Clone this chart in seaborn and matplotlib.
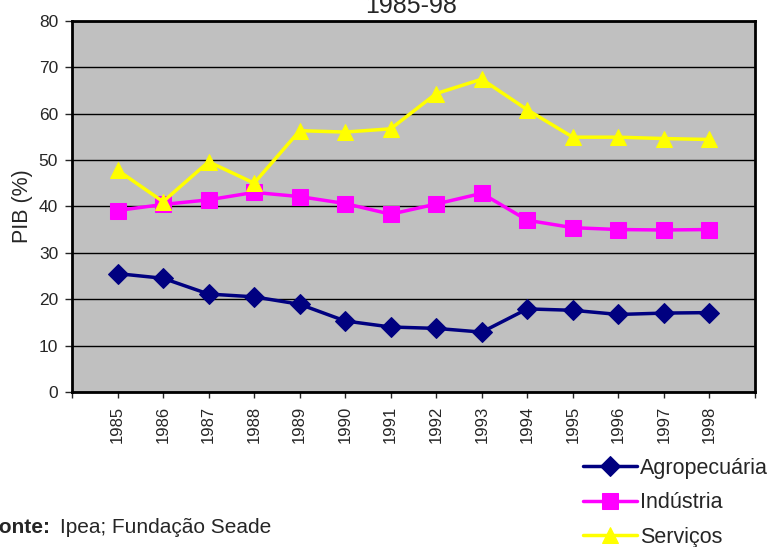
import matplotlib
matplotlib.use("Agg")
import matplotlib.pyplot as plt
import seaborn as sns
import pandas as pd

# dados (PIB, %)
anos        = ["1985", "1986", "1987", "1988", "1989", "1990", "1991",
               "1992", "1993", "1994", "1995", "1996", "1997", "1998"]
agropecuaria = [25.5, 24.5, 21.1, 20.5, 18.9, 15.3, 14.0, 13.7, 12.9, 17.9, 17.6, 16.7, 17.0, 17.1]
industria    = [39.1, 40.4, 41.4, 43.0, 42.1, 40.6, 38.3, 40.5, 42.8, 37.0, 35.4, 35.0, 34.9, 35.0]
servicos     = [47.8, 41.0, 49.6, 45.0, 56.3, 56.0, 56.7, 64.3, 67.4, 60.8, 54.9, 54.9, 54.6, 54.4]

series = [
    ("Agropecuária", agropecuaria, "#000080", "D", 10),
    ("Indústria",    industria,    "#FF00FF", "s", 11),
    ("Serviços",     servicos,     "#FFFF00", "^", 12),
]

sns.set_theme(style="white")
plt.rcParams["font.family"] = ["Liberation Sans", "DejaVu Sans"]

fig = plt.figure(figsize=(7.71, 5.47), dpi=100)
ax = fig.add_axes([0.0934, 0.2834, 0.8858, 0.6788])
ax.set_facecolor("#C0C0C0")

pos = list(range(len(anos)))
for nome, vals, cor, mk, ms in series:
    df = pd.DataFrame({"pos": pos, "valor": vals})
    sns.lineplot(data=df, x="pos", y="valor", ax=ax, color=cor, lw=2.5,
                 marker=mk, markersize=ms, markeredgecolor=cor,
                 markerfacecolor=cor, label=nome)

ax.set_xlim(-1, 14)
ax.set_ylim(0, 80)
ax.set_yticks(range(0, 81, 10))
ax.yaxis.grid(True, color="black", lw=1)
ax.set_axisbelow(True)

ax.set_xticks(range(-1, 15))
ax.set_xticklabels([""] + anos + [""], rotation=90, fontsize=12)
ax.tick_params(axis="y", labelsize=12.5, length=5, width=1, direction="out",
               left=True, pad=5)
ax.tick_params(axis="x", length=4, width=1, direction="out", bottom=True, pad=6)

for s in ax.spines.values():
    s.set_color("black")
    s.set_linewidth(2)

ax.set_xlabel("")
ax.set_ylabel("PIB (%)", fontsize=15.5, labelpad=4)

fig.text(0.533, 0.976, "1985-98", ha="center", va="baseline", fontsize=18)

ax.legend(loc="upper left", bbox_to_anchor=(0.756, 0.163),
          bbox_transform=fig.transFigure, frameon=False, fontsize=15.5,
          handlelength=2.5, handletextpad=0.15, labelspacing=0.62,
          borderpad=0, borderaxespad=0)

fig.text(-0.017, 0.026, "Fonte:", fontsize=15, fontweight="bold", va="baseline")
fig.text(0.078, 0.026, "Ipea; Fundação Seade", fontsize=15, va="baseline")

fig.savefig("out.png", dpi=100)
